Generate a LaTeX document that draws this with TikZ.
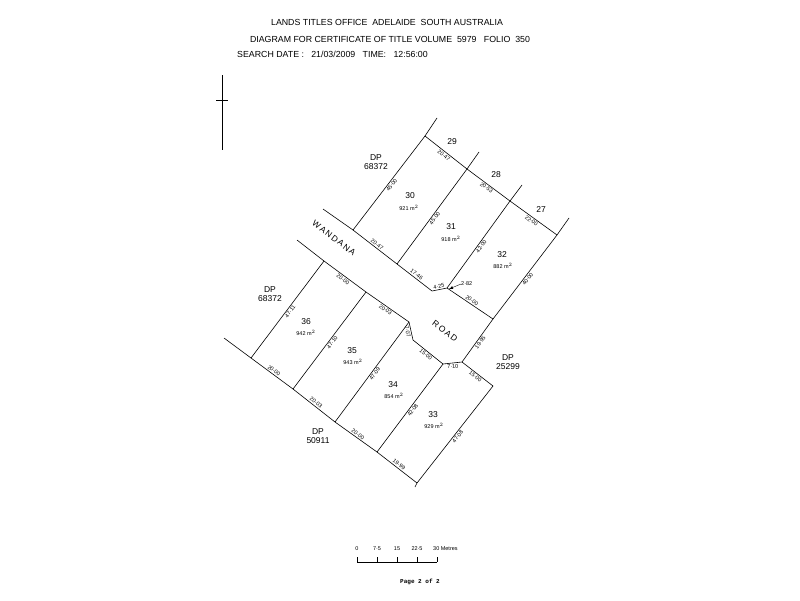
\documentclass[tikz,border=0pt]{standalone}
\usepackage{fontspec}
\setmainfont{Liberation Sans}
\setmonofont{Liberation Mono}
\newcommand\mypt[3]{\coordinate (#1) at (#2,-#3);}
\begin{document}
\begin{tikzpicture}[x=1pt,y=1pt,
 bl/.style={line width=0.6pt,black},
 dim/.style={font=\fontsize{5.5}{5.5}\selectfont,sloped,inner sep=1.2pt},
 lot/.style={font=\fontsize{8.5}{9.5}\selectfont,inner sep=0pt},
 area/.style={font=\fontsize{5.5}{6}\selectfont,inner sep=0pt},
 hdr/.style={font=\fontsize{8.8}{9}\selectfont,inner sep=0pt}]
\useasboundingbox[fill=white] (0,0) rectangle (800,-600);
% header
\node[hdr] (h1) at (387,-22) {LANDS TITLES OFFICE\ \ ADELAIDE\ \ SOUTH AUSTRALIA};
\node[hdr] (h2) at (390,-39) {DIAGRAM FOR CERTIFICATE OF TITLE VOLUME\ \ 5979\ \ \ FOLIO\ \ 350};
\node[hdr,anchor=west] (h3) at (237,-54) {SEARCH DATE :\ \ \ 21/03/2009\ \ \ TIME:\ \ \ 12:56:00};
% north
\mypt{n1}{222}{75}\mypt{n2}{222}{150}\mypt{t1}{216}{100}\mypt{t2}{228}{100}
\draw[bl] (n1)--(n2); \draw[bl] (t1)--(t2);
% points
\mypt{a0}{437}{118}\mypt{a}{425}{136}
\mypt{b0}{479}{152}\mypt{b}{467}{169}
\mypt{c0}{522}{185}\mypt{c}{510}{201}
\mypt{d0}{569}{218}\mypt{d}{557}{235}
\mypt{r0}{323}{209}\mypt{r1}{353}{230}\mypt{r2}{397}{264}
\mypt{r3}{432}{291}\mypt{r4}{447}{288}\mypt{r5}{493}{319}
\mypt{s0}{297}{240}\mypt{s1}{324}{261}\mypt{s2}{366}{292}
\mypt{s3}{409}{322}\mypt{s4}{413}{340}\mypt{s5}{443}{364}
\mypt{s6}{462}{362}\mypt{e1}{493}{386}\mypt{e2}{417}{483}
\mypt{e3}{415}{487}
\mypt{f1}{377}{452}\mypt{f2}{335}{422}\mypt{f3}{293}{389}
\mypt{f4}{251}{358}\mypt{f5}{224}{338}
% upper lots
\draw[bl] (a0)--(a) -- node[dim,below]{20·47} (b) -- node[dim,below]{20·53} (c) -- node[dim,below]{22·00} (d);
\draw[bl] (a) -- node[dim,below]{45·00} (r1);
\draw[bl] (b0)--(b) -- node[dim,below]{45·00} (r2);
\draw[bl] (c0)--(c) -- node[dim,below]{42·00} (r4);
\draw[bl] (d0)--(d) -- node[dim,below]{40·00} (r5);
\draw[bl] (r0)--(r1) -- node[dim,above]{20·47} (r2) -- node[dim,above]{17·46} (r3) -- node[dim,above]{4·25} (r4) -- node[dim,above]{20·00} (r5) -- node[dim,below]{19·95} (s6);
% lower lots
\draw[bl] (s0)--(s1) -- node[dim,below]{20·00} (s2) -- node[dim,below]{20·03} (s3) -- node[dim,below]{7·07} (s4) -- node[dim,below]{15·00} (s5) -- node[dim,below]{7·10} (s6) -- node[dim,below]{15·00} (e1) -- node[dim,below]{47·08} (e2) -- (e3);
\draw[bl] (e2) -- node[dim,above]{19·99} (f1) -- node[dim,above]{20·00} (f2) -- node[dim,above]{20·03} (f3) -- node[dim,above]{20·00} (f4) -- (f5);
\draw[bl] (s1) -- node[dim,below]{47·11} (f4);
\draw[bl] (s2) -- node[dim,below]{47·10} (f3);
\draw[bl] (s3) -- node[dim,below]{47·09} (f2);
\draw[bl] (s5) -- node[dim,below]{42·08} (f1);
% 2.82
\node[area,anchor=west] (n282) at (461,-284) {2·82};
\mypt{p282}{449}{289}
\draw[bl,line width=0.4pt,-latex] (n282.west) -- (p282);
% lot labels
\node[lot] (l29) at (452,-142) {29};
\node[lot] (l28) at (496,-175) {28};
\node[lot] (l27) at (541,-210) {27};
\node[lot] (l30) at (410,-196) {30}; \node[area] (a30) at (409,-208) {921 m$^{2}$};
\node[lot] (l31) at (451,-227) {31}; \node[area] (a31) at (451,-239) {918 m$^{2}$};
\node[lot] (l32) at (502,-255) {32}; \node[area] (a32) at (503,-266) {882 m$^{2}$};
\node[lot] (l36) at (306,-322) {36}; \node[area] (a36) at (306,-333) {942 m$^{2}$};
\node[lot] (l35) at (352,-351) {35}; \node[area] (a35) at (353,-362) {943 m$^{2}$};
\node[lot] (l34) at (393,-385) {34}; \node[area] (a34) at (394,-396) {854 m$^{2}$};
\node[lot] (l33) at (433,-415) {33}; \node[area] (a33) at (434,-426) {929 m$^{2}$};
\node[lot,align=center] (dp1) at (376,-162) {DP\\68372};
\node[lot,align=center] (dp2) at (270,-294) {DP\\68372};
\node[lot,align=center] (dp3) at (508,-362) {DP\\25299};
\node[lot,align=center] (dp4) at (318,-436) {DP\\50911};
\node[lot,rotate=-37] (wand) at (334,-238) {W\,A\,N\,D\,A\,N\,A};
\node[lot,rotate=-37] (road) at (445,-331) {R\,O\,A\,D};
% scale
\mypt{k0}{357}{562}\mypt{k4}{437}{562}
\draw[bl,line width=0.4pt] (k0)--(k4);
\foreach \x in {357,377,397,417,437} \draw[bl,line width=0.4pt] (\x,-557)--(\x,-562);
\node[area] (z0) at (357,-549) {0};
\node[area] (z1) at (377,-549) {7·5};
\node[area] (z2) at (397,-549) {15};
\node[area] (z3) at (417,-549) {22·5};
\node[area,anchor=west] (z4) at (433,-549) {30 Metres};
\node[font=\ttfamily\bfseries\fontsize{6}{7}\selectfont] (pg) at (420,-582) {Page 2 of 2};
\end{tikzpicture}
\end{document}
